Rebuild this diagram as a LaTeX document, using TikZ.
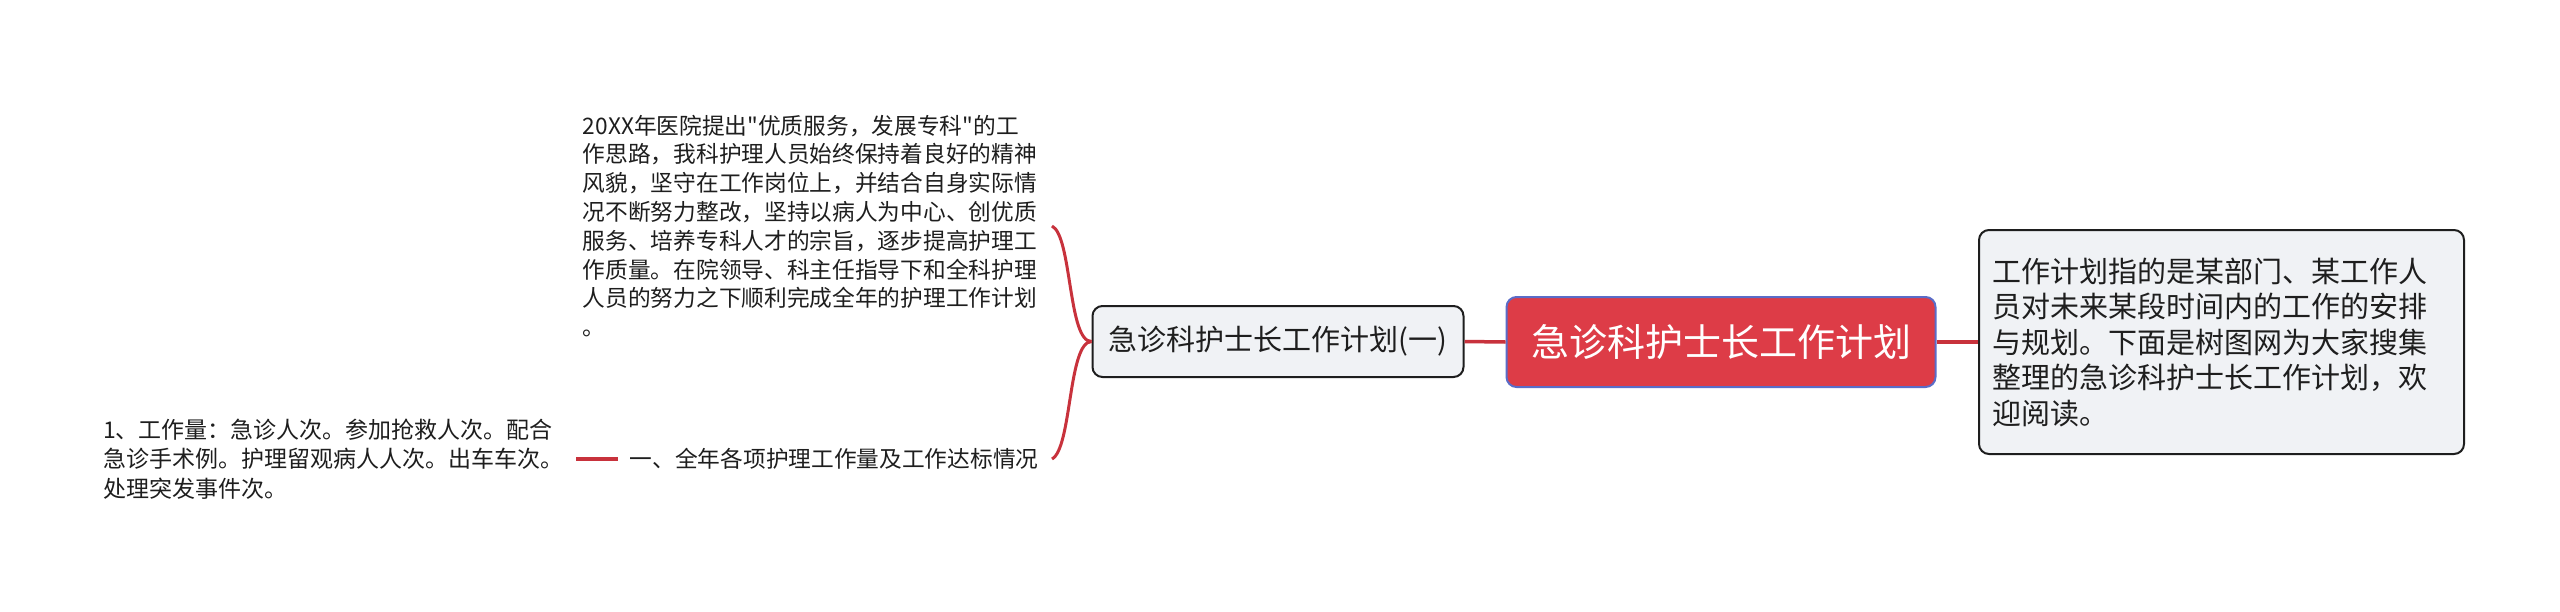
\documentclass[tikz,border=0pt]{standalone}
\usepackage{fontspec}
\setmainfont{Noto Sans CJK SC}
\newfontfamily\plaincjk{Noto Sans CJK SC}
\definecolor{linered}{RGB}{200,50,60}
\definecolor{rootred}{RGB}{221,60,71}
\definecolor{rootborder}{RGB}{90,108,200}
\definecolor{boxgray}{RGB}{240,242,245}
\definecolor{ink}{RGB}{30,30,30}
\begin{document}
\begin{tikzpicture}[x=1pt,y=-1pt,
  conn/.style={draw=linered, line width=3.5pt},
  curveconn/.style={draw=linered, line width=3pt},
  topic/.style={draw=ink, line width=2pt, fill=boxgray, rounded corners=10pt, text=ink},
  rootbox/.style={draw=rootborder, line width=2pt, fill=rootred, rounded corners=10pt, text=white},
  plaintext/.style={inner ysep=0pt, align=left, text=ink, font=\plaincjk\fontsize{22.7}{28.8}\selectfont}
]
\fill[white] (0,0) rectangle (2560,611);
\useasboundingbox (0,0) rectangle (2560,611);

\node[rootbox, minimum width=429pt, minimum height=90pt, inner sep=0pt,
  font=\fontsize{38}{44}\selectfont] (root) at (1721,342) {急诊科护士长工作计划};

\node[topic, minimum width=371pt, minimum height=71pt, inner sep=0pt,
  font=\fontsize{29}{35}\selectfont] (sub) at (1278,341.5) {急诊科护士长工作计划(一)};

\node[topic, anchor=west, text width=459pt, inner xsep=13pt, minimum height=224pt,
  align=left, font=\fontsize{29}{35.5}\selectfont] (desc) at (1978,342)
  {工作计划指的是某部门、某工作人\\员对未来某段时间内的工作的安排\\与规划。下面是树图网为大家搜集\\整理的急诊科护士长工作计划，欢\\迎阅读。};

\node[plaintext, anchor=east, text width=456pt, inner xsep=13pt] (intro) at (1052,226)
  {20XX年医院提出"优质服务，发展专科"的工\\作思路，我科护理人员始终保持着良好的精神\\风貌，坚守在工作岗位上，并结合自身实际情\\况不断努力整改，坚持以病人为中心、创优质\\服务、培养专科人才的宗旨，逐步提高护理工\\作质量。在院领导、科主任指导下和全科护理\\人员的努力之下顺利完成全年的护理工作计划\\。};

\node[plaintext, anchor=east, text width=410pt, inner xsep=12pt] (item) at (1052,459)
  {一、全年各项护理工作量及工作达标情况};

\node[plaintext, anchor=west, text width=460pt, inner xsep=13pt,
  font=\plaincjk\fontsize{23}{29.5}\selectfont] (leaf) at (90,459)
  {1、工作量：急诊人次。参加抢救人次。配合\\急诊手术例。护理留观病人人次。出车车次。\\处理突发事件次。};

\draw[conn] (sub.east) -- (root.west);
\draw[conn] (root.east) -- (desc.west);
\draw[curveconn] (sub.west) .. controls (1068,342) and (1072,236) .. (intro.east);
\draw[curveconn] (sub.west) .. controls (1068,342) and (1072,448) .. (item.east);
\draw[conn] (leaf.east) -- (item.west);
\end{tikzpicture}
\end{document}
